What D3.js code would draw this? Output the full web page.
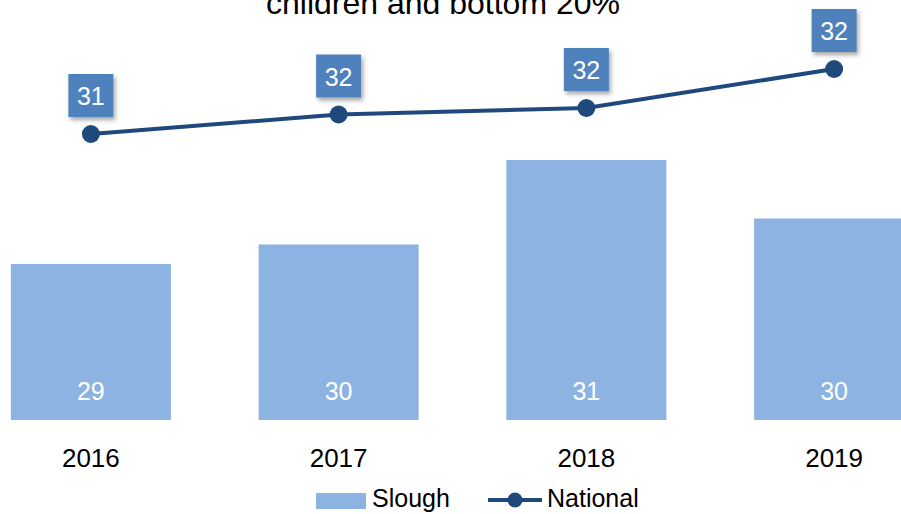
<!DOCTYPE html>
<html>
<head>
<meta charset="utf-8">
<script src="https://cdn.jsdelivr.net/npm/d3@7/dist/d3.min.js"></script>
<style>
  html, body { margin: 0; padding: 0; background: #fff; }
  svg { display: block; font-family: "Liberation Sans", Arial, sans-serif; }
</style>
</head>
<body>
<svg id="chart" width="901" height="514"></svg>
<script>
// Gap between disadvantaged children and bottom 20% (Slough vs national)
const years = ["2016", "2017", "2018", "2019"];
const slough = [29.4, 29.7, 31.0, 30.1];
const national = [31.4, 31.7, 31.8, 32.4];
const seriesNames = ["Slough", "National"];
const titleText = "children and bottom 20%";

const barColor = "#8DB3E2";
const lineColor = "#1F497D";
const boxColor = "#4F81BD";

const svg = d3.select("#chart");

const x = d3.scaleBand()
  .domain(years)
  .range([-33, 958])
  .paddingInner(0.354)
  .paddingOuter(0.177);

const y = d3.scaleLinear()
  .domain([27, 33])
  .range([420, 30]);

const fmt = d3.format(".0f");

// drop shadow for the value boxes
const defs = svg.append("defs");
const f = defs.append("filter").attr("id", "shadow")
  .attr("x", "-30%").attr("y", "-30%").attr("width", "160%").attr("height", "160%");
f.append("feDropShadow").attr("dx", 2).attr("dy", 3).attr("stdDeviation", 2)
  .attr("flood-color", "#000").attr("flood-opacity", 0.35);

// title (its upper part runs past the top edge)
svg.append("text")
  .attr("x", 443).attr("y", 14)
  .attr("text-anchor", "middle")
  .attr("font-size", 32)
  .attr("fill", "#000")
  .text(titleText);

// bars
svg.append("g").selectAll("rect")
  .data(years)
  .join("rect")
  .attr("x", d => x(d))
  .attr("y", (d, i) => y(slough[i]))
  .attr("width", x.bandwidth())
  .attr("height", (d, i) => y(27) - y(slough[i]))
  .attr("fill", barColor);

// bar value labels
svg.append("g").selectAll("text")
  .data(years)
  .join("text")
  .attr("x", d => x(d) + x.bandwidth() / 2)
  .attr("y", 400)
  .attr("text-anchor", "middle")
  .attr("font-size", 25)
  .attr("fill", "#fff")
  .text((d, i) => fmt(slough[i]));

// national line
const line = d3.line()
  .x((d, i) => x(years[i]) + x.bandwidth() / 2)
  .y(d => y(d));

svg.append("path")
  .datum(national)
  .attr("d", line)
  .attr("fill", "none")
  .attr("stroke", lineColor)
  .attr("stroke-width", 4);

svg.append("g").selectAll("circle")
  .data(national)
  .join("circle")
  .attr("cx", (d, i) => x(years[i]) + x.bandwidth() / 2)
  .attr("cy", d => y(d))
  .attr("r", 9)
  .attr("fill", lineColor);

// national value boxes
const boxW = 45, boxH = 43;
const lbl = svg.append("g").selectAll("g")
  .data(national)
  .join("g")
  .attr("transform", (d, i) =>
    `translate(${x(years[i]) + x.bandwidth() / 2},${y(d) - 17 - boxH})`);

lbl.append("rect")
  .attr("x", -boxW / 2).attr("y", 0)
  .attr("width", boxW).attr("height", boxH)
  .attr("fill", boxColor)
  .attr("filter", "url(#shadow)");

lbl.append("text")
  .attr("x", 0).attr("y", 31)
  .attr("text-anchor", "middle")
  .attr("font-size", 25)
  .attr("fill", "#fff")
  .text(d => fmt(d));

// x axis labels
const xAxis = d3.axisBottom(x).tickSize(0).tickPadding(0);
const ax = svg.append("g")
  .attr("transform", "translate(0,449)")
  .call(xAxis);
ax.select(".domain").remove();
ax.selectAll("text")
  .attr("font-size", 26)
  .attr("font-family", "\"Liberation Sans\", Arial, sans-serif")
  .attr("fill", "#000");

// legend
const leg = svg.append("g");
leg.append("rect")
  .attr("x", 316).attr("y", 493)
  .attr("width", 50).attr("height", 16)
  .attr("fill", barColor);
leg.append("text")
  .attr("x", 372).attr("y", 507)
  .attr("font-size", 25)
  .attr("fill", "#000")
  .text(seriesNames[0]);
leg.append("line")
  .attr("x1", 488).attr("x2", 542)
  .attr("y1", 500).attr("y2", 500)
  .attr("stroke", lineColor).attr("stroke-width", 4);
leg.append("circle")
  .attr("cx", 515).attr("cy", 500).attr("r", 7.5)
  .attr("fill", lineColor);
leg.append("text")
  .attr("x", 547).attr("y", 507)
  .attr("font-size", 25)
  .attr("fill", "#000")
  .text(seriesNames[1]);
</script>
</body>
</html>
